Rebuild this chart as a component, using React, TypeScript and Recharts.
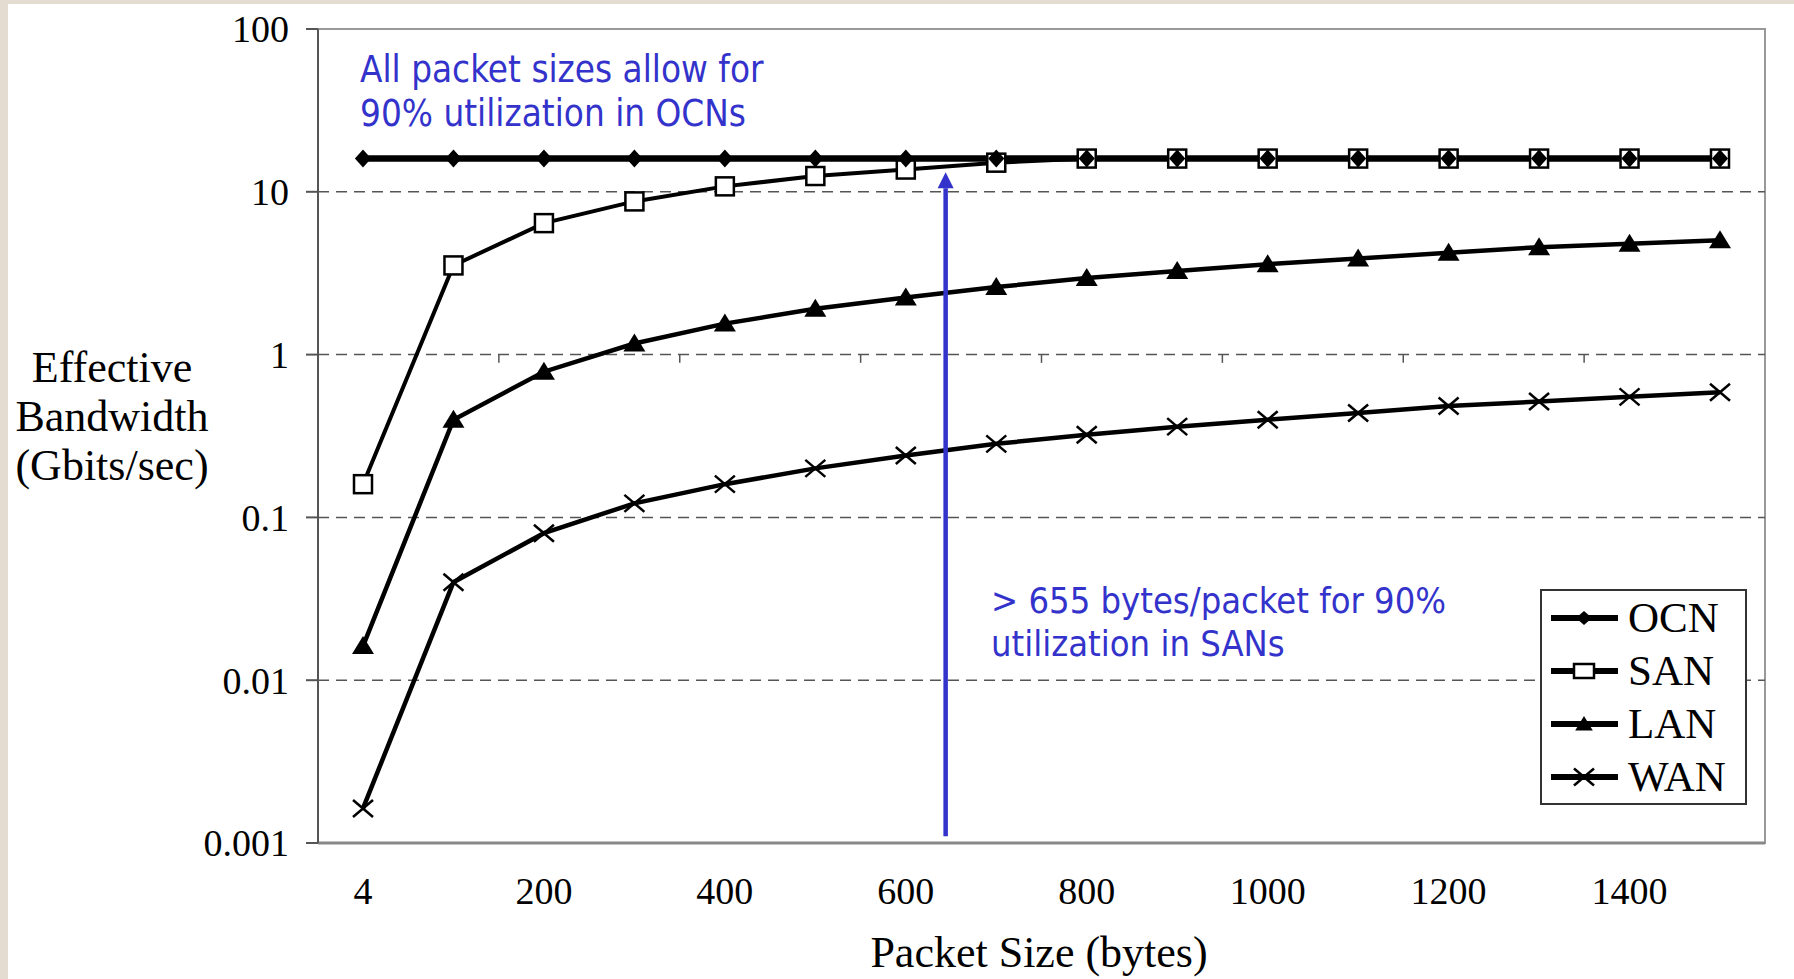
import React from 'react';
import { LineChart, Line, XAxis, YAxis, ReferenceLine, ReferenceArea, Legend } from 'recharts';

// packet sizes (bytes) on the category axis
const sizes = ['4', '100', '200', '300', '400', '500', '600', '700', '800', '900', '1000', '1100', '1200', '1300', '1400', '1500'];

// effective bandwidth, Gbits/sec
const ocn = [16, 16, 16, 16, 16, 16, 16, 16, 16, 16, 16, 16, 16, 16, 16, 16];
const san = [0.16, 3.53, 6.42, 8.73, 10.8, 12.5, 13.7, 15.1, 16, 16, 16, 16, 16, 16, 16, 16];
const lan = [0.0162, 0.398, 0.785, 1.17, 1.55, 1.91, 2.24, 2.6, 2.95, 3.26, 3.59, 3.89, 4.22, 4.57, 4.8, 5.04];
const wan = [0.00163, 0.04, 0.08, 0.122, 0.16, 0.2, 0.24, 0.283, 0.322, 0.361, 0.398, 0.438, 0.483, 0.515, 0.55, 0.587];

const yTicks = [0.001, 0.01, 0.1, 1, 10, 100];
const gridLevels = [10, 1, 0.1, 0.01];
// excel-style category ticks where the x axis crosses at 1 (band edges, band units)
const crossTicks = [2, 4, 6, 8, 10, 12, 14];

// arrow marking ~655 bytes/packet (band units: category i sits at i + 0.5)
const arrowAt = 6.94;
const arrowFrom = 0.0011;
const arrowTo = 13.2;

const data = sizes.map((s, i) => ({ size: s, pos: i + 0.5, OCN: ocn[i], SAN: san[i], LAN: lan[i], WAN: wan[i] }));

const serif = '"Liberation Serif", "Times New Roman", serif';
const blue = '#3333cc';

const Diamond = ({ cx, cy, r = 9, w }: any) => {
  const ww = w ?? r * 0.9;
  return <polygon points={`${cx},${cy - r} ${cx + ww},${cy} ${cx},${cy + r} ${cx - ww},${cy}`} fill="#000" />;
};
const Square = ({ cx, cy, r = 9, h }: any) => {
  const hh = h ?? r;
  return <rect x={cx - r} y={cy - hh} width={r * 2} height={hh * 2} fill="#fff" stroke="#000" strokeWidth={2.5} />;
};
const Triangle = ({ cx, cy, r = 10 }: any) => (
  <polygon points={`${cx},${cy - r} ${cx + r * 1.1},${cy + r * 0.8} ${cx - r * 1.1},${cy + r * 0.8}`} fill="#000" />
);
const Cross = ({ cx, cy, r = 10 }: any) => (
  <g stroke="#000" strokeWidth={2.5}>
    <line x1={cx - r} y1={cy - r * 0.85} x2={cx + r} y2={cy + r * 0.85} />
    <line x1={cx - r} y1={cy + r * 0.85} x2={cx + r} y2={cy - r * 0.85} />
  </g>
);

const legendItems = [
  { name: 'OCN', icon: <Diamond cx={33} cy={20} r={7} w={8} /> },
  { name: 'SAN', icon: <Square cx={33} cy={20} r={10} h={7} /> },
  { name: 'LAN', icon: <Triangle cx={33} cy={20} r={8} /> },
  { name: 'WAN', icon: <Cross cx={33} cy={20} r={10} /> },
];

const LegendBox = () => (
  <div style={{ border: '2px solid #333', background: '#fff', width: 203, height: 212, boxSizing: 'content-box' }}>
    {legendItems.map((it) => (
      <div key={it.name} style={{ display: 'flex', alignItems: 'center', height: 53 }}>
        <svg width={67} height={40} style={{ marginLeft: 9, flex: 'none' }}>
          <line x1={0} y1={20} x2={67} y2={20} stroke="#000" strokeWidth={6} strokeLinecap="round" />
          {it.icon}
        </svg>
        <span style={{ marginLeft: 10, fontFamily: serif, fontSize: 43, color: '#000', lineHeight: 1 }}>{it.name}</span>
      </div>
    ))}
  </div>
);

const Arrow = (p: any) => {
  const { x1, y1, x2, y2 } = p;
  const head = 16;
  const dir = y2 < y1 ? 1 : -1;
  return (
    <g>
      <line x1={x1} y1={y1} x2={x2} y2={y2 + dir * head} stroke={blue} strokeWidth={4.5} />
      <polygon points={`${x2},${y2} ${x2 + 8},${y2 + dir * head} ${x2 - 8},${y2 + dir * head}`} fill={blue} />
    </g>
  );
};

const tickStyle = { fill: '#000', fontSize: 38, fontFamily: serif };

export default function App() {
  return (
    <div style={{ position: 'absolute', left: 0, top: 0, width: 1794, height: 979, background: '#e4dcd1', overflow: 'hidden' }}>
      <div style={{ position: 'absolute', left: 8, top: 4, right: 0, bottom: 0, background: '#fff' }} />
      <div style={{ position: 'absolute', left: 0, top: 0 }}>
        <LineChart width={1794} height={979} data={data} margin={{ top: 29, right: 29, bottom: 76, left: 258 }}>
          <XAxis
            xAxisId="cat"
            dataKey="size"
            interval={1}
            tickLine={false}
            tickSize={0}
            tickMargin={34}
            axisLine={{ stroke: '#888', strokeWidth: 3 }}
            padding={{ left: 45, right: 45 }}
            height={60}
            tick={tickStyle}
          />
          <XAxis xAxisId="n" dataKey="pos" type="number" domain={[0, 16]} ticks={[0, 16]} hide allowDataOverflow />
          <YAxis
            scale="log"
            domain={[0.001, 100]}
            ticks={yTicks}
            interval={0}
            allowDataOverflow
            width={60}
            tickSize={12}
            tickMargin={17}
            axisLine={{ stroke: '#555', strokeWidth: 2 }}
            tickLine={{ stroke: '#555', strokeWidth: 2 }}
            tick={tickStyle}
            tickFormatter={(v: number) => String(v)}
          />
          <ReferenceArea xAxisId="n" x1={0} x2={16} y1={0.001} y2={100} fill="none" stroke="#999" strokeWidth={2} />
          {gridLevels.map((g) => (
            <ReferenceLine key={g} xAxisId="n" y={g} stroke="#555" strokeWidth={1.5} strokeDasharray="11 7" />
          ))}
          {crossTicks.map((t) => (
            <ReferenceLine key={t} xAxisId="n" segment={[{ x: t, y: 1 }, { x: t, y: 0.89 }]} stroke="#555" strokeWidth={1.5} />
          ))}
          <Line xAxisId="cat" dataKey="WAN" name="WAN" stroke="#000" strokeWidth={4.5} isAnimationActive={false} activeDot={false}
            dot={(p: any) => <Cross key={`w${p.index}`} cx={p.cx} cy={p.cy} />} />
          <Line xAxisId="cat" dataKey="LAN" name="LAN" stroke="#000" strokeWidth={4.5} isAnimationActive={false} activeDot={false}
            dot={(p: any) => <Triangle key={`l${p.index}`} cx={p.cx} cy={p.cy} />} />
          <Line xAxisId="cat" dataKey="SAN" name="SAN" stroke="#000" strokeWidth={4} isAnimationActive={false} activeDot={false}
            dot={(p: any) => <Square key={`s${p.index}`} cx={p.cx} cy={p.cy} />} />
          <Line xAxisId="cat" dataKey="OCN" name="OCN" stroke="#000" strokeWidth={6.5} isAnimationActive={false} activeDot={false}
            dot={(p: any) => <Diamond key={`o${p.index}`} cx={p.cx} cy={p.cy} />} />
          <ReferenceLine xAxisId="n" segment={[{ x: arrowAt, y: arrowFrom }, { x: arrowAt, y: arrowTo }]} shape={Arrow} />
          <Legend layout="vertical" align="center" verticalAlign="middle"
            wrapperStyle={{ left: 1540, top: 589, width: 207, height: 216 }} content={() => <LegendBox />} />
        </LineChart>
      </div>
      <div style={{ position: 'absolute', left: 12, top: 343, width: 200, textAlign: 'center', fontFamily: serif, fontSize: 44, lineHeight: '49px', color: '#000' }}>
        Effective<br />Bandwidth<br />(Gbits/sec)
      </div>
      <div style={{ position: 'absolute', left: 839, top: 928, width: 400, textAlign: 'center', fontFamily: serif, fontSize: 44, lineHeight: '49px', color: '#000' }}>
        Packet Size (bytes)
      </div>
      <div style={{ position: 'absolute', left: 360, top: 48, fontFamily: '"DejaVu Sans Condensed", "DejaVu Sans", sans-serif', fontSize: 36.5, lineHeight: '44px', color: blue, whiteSpace: 'nowrap' }}>
        All packet sizes allow for<br />90% utilization in OCNs
      </div>
      <div style={{ position: 'absolute', left: 991, top: 579, fontFamily: '"DejaVu Sans Condensed", "DejaVu Sans", sans-serif', fontSize: 36, lineHeight: '43px', color: blue, whiteSpace: 'nowrap' }}>
        &gt; 655 bytes/packet for 90%<br />utilization in SANs
      </div>
    </div>
  );
}
